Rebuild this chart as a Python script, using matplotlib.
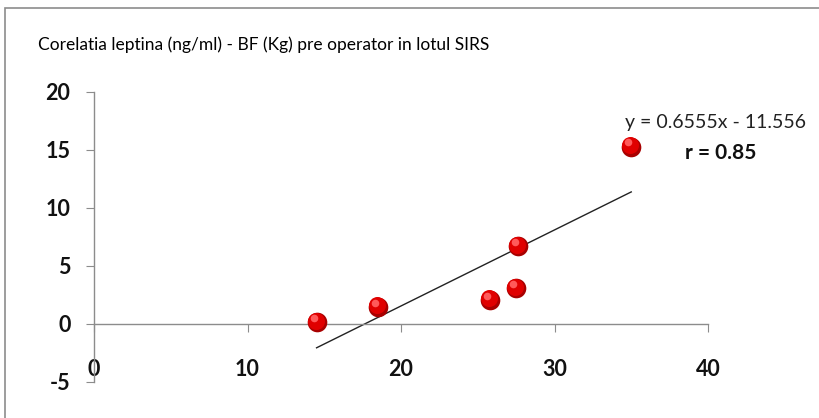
import matplotlib
matplotlib.use("Agg")
import matplotlib.pyplot as plt
from matplotlib.patches import Rectangle
import numpy as np

# BF (Kg) vs leptina (ng/ml)
bf = [14.5, 18.5, 25.8, 27.5, 27.6, 35.0]
leptina = [0.2, 1.5, 2.1, 3.1, 6.7, 15.3]
slope, intercept = 0.6555, -11.556
x_ticks = [0, 10, 20, 30, 40]
y_ticks = [-5, 0, 5, 10, 15, 20]

plt.rcParams['font.family'] = ['Lato', 'DejaVu Sans']
plt.rcParams['axes.unicode_minus'] = False

fig = plt.figure(figsize=(8.19, 4.18), dpi=100)
# chart area border
fig.patches.append(Rectangle((5 / 819, -0.1), 1.2, (418 - 8) / 418 + 0.1,
                             transform=fig.transFigure, fill=False,
                             edgecolor="#8c8c8c", linewidth=1.2))

ax = fig.add_axes([94 / 819, 36 / 418, 614 / 819, 290 / 418])
ax.set_xlim(0, 40)
ax.set_ylim(-5, 20)

for s in ["top", "right"]:
    ax.spines[s].set_visible(False)
ax.spines["bottom"].set_position(("data", 0))
ax.spines["left"].set_position(("data", 0))
for s in ["bottom", "left"]:
    ax.spines[s].set_color("#8c8c8c")
    ax.spines[s].set_linewidth(1)

ax.set_xticks(x_ticks)
ax.set_yticks(y_ticks)
ax.tick_params(axis="x", direction="out", length=6, color="#8c8c8c",
               pad=19, labelsize=15.5, labelcolor="#111111")
ax.tick_params(axis="y", direction="out", length=6, color="#8c8c8c",
               pad=11, labelsize=15.5, labelcolor="#111111")
for lbl in ax.get_xticklabels() + ax.get_yticklabels():
    lbl.set_fontweight("bold")

# trendline
xl = np.array([min(bf), max(bf)])
ax.plot(xl, slope * xl + intercept, color="#222222", linewidth=1)

# shaded red balls
ax.scatter(bf, leptina, s=200, color="#a80000", zorder=3, linewidths=0)
ax.scatter(np.array(bf) - 0.05, np.array(leptina) + 0.1, s=150,
           color="#e00000", zorder=4, linewidths=0)
ax.scatter(np.array(bf) - 0.2, np.array(leptina) + 0.35, s=30,
           color="#ff5a5a", zorder=5, linewidths=0)

ax.text(34.6, 17.4, "y = 0.6555x - 11.556", fontsize=14, color="#222222",
        va="center", clip_on=False)
ax.text(40.85, 14.7, "r = 0.85", fontsize=15, fontweight="bold",
        color="#111111", ha="center", va="center", clip_on=False)

fig.text(38 / 819, 1 - 45 / 418, "Corelatia leptina (ng/ml) - BF (Kg) pre operator in lotul SIRS",
         fontsize=12.5, va="center", color="#000000")

fig.savefig("out.png", dpi=100)
